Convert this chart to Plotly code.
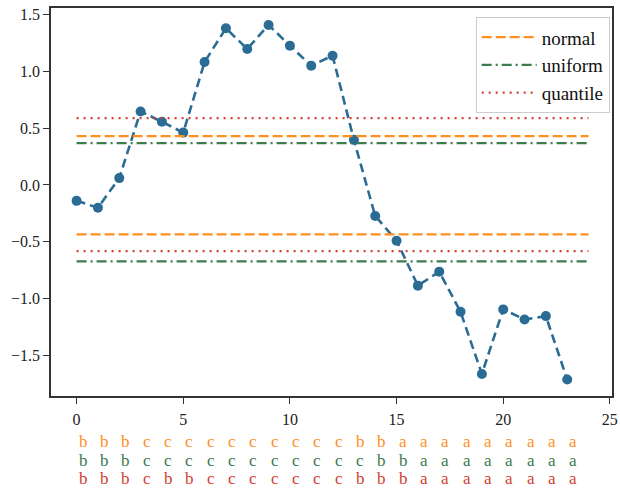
import plotly.graph_objects as go

x_vals = list(range(24))
y_vals = [-0.14, -0.20, 0.06, 0.646, 0.555, 0.46, 1.08, 1.377, 1.195, 1.406, 1.224, 1.048,
          1.136, 0.396, -0.273, -0.49, -0.885, -0.762, -1.115, -1.661, -1.094, -1.182, -1.153, -1.71]

normal_edges = [0.429, -0.434]
uniform_edges = [0.367, -0.672]
quantile_edges = [0.587, -0.581]
hline_x = [0, 24]

normal_labels = list("bbbccccccccccbbaaaaaaaaa")
uniform_labels = list("bbbcccccccccccbbaaaaaaaa")
quantile_labels = list("bbbcbbcccccccbbbaaaaaaaa")

c_line = "#2b6c94"
c_normal = "#ff8f1f"
c_uniform = "#3b7b4c"
c_quant = "#d2402f"

FONT = "Liberation Serif, Times New Roman, serif"

fig = go.Figure()

fig.add_trace(go.Scatter(x=x_vals, y=y_vals, mode="lines+markers",
                         line=dict(color=c_line, width=2.6, dash="9px,5px"),
                         marker=dict(color=c_line, size=10),
                         showlegend=False))

series = [("normal", normal_edges, c_normal, "10px,4px"),
          ("uniform", uniform_edges, c_uniform, "10px,4px,2px,4px"),
          ("quantile", quantile_edges, c_quant, "2px,5px")]
for name, edges, col, dash in series:
    for k, e in enumerate(edges):
        fig.add_trace(go.Scatter(x=hline_x, y=[e, e], mode="lines",
                                 line=dict(color=col, width=2.2, dash=dash),
                                 name=name, legendgroup=name, showlegend=(k == 0)))

rows = [(normal_labels, c_normal, -45), (uniform_labels, c_uniform, -64), (quantile_labels, c_quant, -82)]
for labels, col, ysh in rows:
    for i, lab in enumerate(labels):
        fig.add_annotation(x=x_vals[i], y=0, xref="x", yref="paper", text=lab,
                           showarrow=False, xanchor="left", yanchor="middle",
                           yshift=ysh, xshift=0,
                           font=dict(family=FONT, size=17, color=col))

fig.update_layout(
    width=620, height=489,
    margin=dict(l=51, r=2, t=8, b=92.5),
    paper_bgcolor="white", plot_bgcolor="white",
    font=dict(family=FONT, size=16, color="#222"),
    legend=dict(x=0.757, y=0.976, xanchor="left", yanchor="top",
                bgcolor="white", bordercolor="#cccccc", borderwidth=1,
                font=dict(family=FONT, size=19, color="#111"),
                itemwidth=55, tracegroupgap=0),
)
fig.update_xaxes(range=[-1.2, 25.1], tickvals=[0, 5, 10, 15, 20, 25],
                 showgrid=False, zeroline=False, showline=True, linecolor="#333",
                 linewidth=1.5, mirror=True, ticks="outside", ticklen=6, tickwidth=1.3,
                 tickcolor="#333", ticklabeloverflow="allow", ticklabelstandoff=2,
                 tickfont=dict(family=FONT, size=16, color="#222"))
fig.update_yaxes(range=[-1.855, 1.555], tickvals=[-1.5, -1.0, -0.5, 0.0, 0.5, 1.0, 1.5],
                 ticktext=["\u22121.5", "\u22121.0", "\u22120.5", "0.0", "0.5", "1.0", "1.5"],
                 showgrid=False, zeroline=False, showline=True, linecolor="#333",
                 linewidth=1.5, mirror=True, ticks="outside", ticklen=6, tickwidth=1.3,
                 tickcolor="#333",
                 tickfont=dict(family=FONT, size=16, color="#222"))

fig.write_html("out.html")
